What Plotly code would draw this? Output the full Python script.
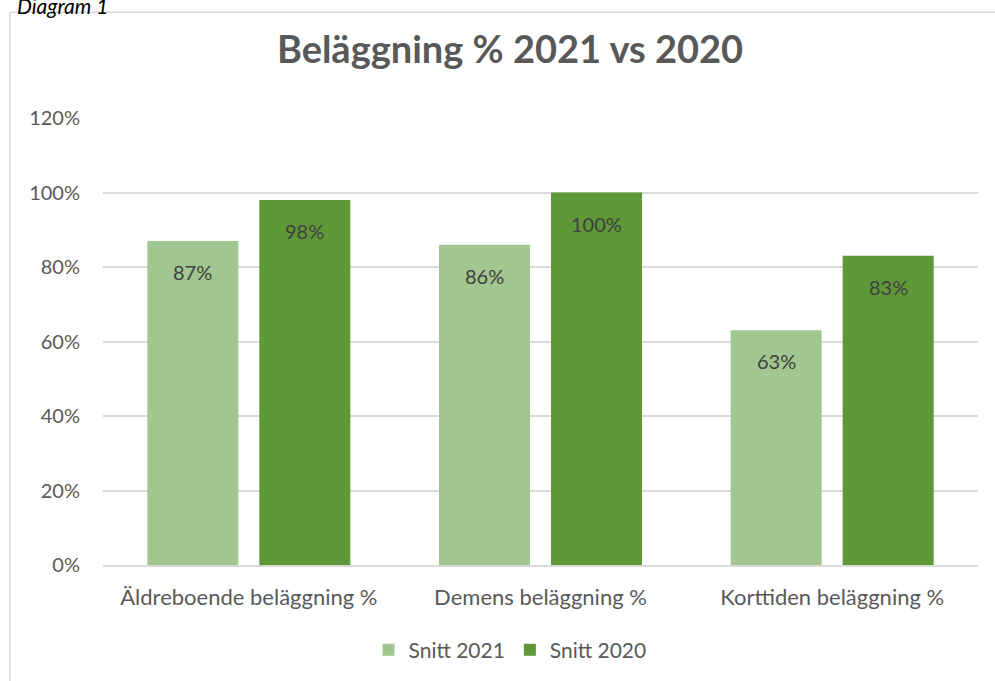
import plotly.graph_objects as go

categories = ["Äldreboende beläggning %", "Demens beläggning %", "Korttiden beläggning %"]
snitt_2021 = [0.87, 0.86, 0.63]
snitt_2020 = [0.98, 1.00, 0.83]
series_names = ["Snitt 2021", "Snitt 2020"]
tick_vals = [0, 0.2, 0.4, 0.6, 0.8, 1.0, 1.2]
tick_text = ["0%", "20%", "40%", "60%", "80%", "100%", "120%"]

FONT = "Lato"
W, H = 995, 681
L, R, T, B = 103, 17, 118, 115
plot_w = W - L - R
plot_h = H - T - B
BARGAP = 0.232
BARGROUPGAP = 0.1875

def py(pixel_y):
    return (H - B - pixel_y) / plot_h

def px(pixel_x):
    return (pixel_x - L) / plot_w

fig = go.Figure()
colors = ["#a2c68f", "#5e9837"]
slot = plot_w / len(categories) * (1 - BARGAP) / 2
shifts = [-slot / 2, slot / 2]
for name, vals, col, sh in zip(series_names, [snitt_2021, snitt_2020], colors, shifts):
    fig.add_trace(go.Bar(
        x=categories, y=vals, name=name,
        marker=dict(color=col, line=dict(width=0)),
        hoverinfo="x+y",
    ))
    for c, v in zip(categories, vals):
        fig.add_annotation(x=c, y=v, xref="x", yref="y", text=f"{round(v*100)}%",
                           showarrow=False, xshift=sh, yshift=-31, yanchor="middle",
                           font=dict(family=FONT, size=20, color="#404040"))

fig.update_layout(
    width=W, height=H,
    margin=dict(l=L, r=R, t=T, b=B, pad=0),
    paper_bgcolor="white", plot_bgcolor="white",
    barmode="group", bargap=BARGAP, bargroupgap=BARGROUPGAP,
    title=dict(text="<b>Beläggning % 2021 vs 2020</b>", x=510 / W, xanchor="center",
               xref="container", y=1 - 50 / H, yanchor="middle",
               font=dict(family=FONT, size=38, color="#595959")),
    font=dict(family=FONT, color="#595959"),
    legend=dict(orientation="h", x=px(510), xanchor="center", y=py(650), yanchor="middle",
                font=dict(family=FONT, size=21, color="#595959"),
                itemwidth=30, traceorder="normal"),
    showlegend=True,
)
fig.update_yaxes(range=[0, 1.2], tickvals=tick_vals, ticktext=tick_text,
                 showgrid=True, gridcolor="#d9d9d9", gridwidth=1.5,
                 zeroline=False, showline=False, ticks="",
                 tickfont=dict(family=FONT, size=20, color="#595959"), ticklabelstandoff=22)
fig.update_xaxes(showline=True, linecolor="#d9d9d9", linewidth=1.5, ticks="",
                 tickfont=dict(family=FONT, size=22, color="#595959"), ticklabelstandoff=12)

# chart border
fig.add_shape(type="rect", xref="paper", yref="paper",
              x0=px(10), x1=px(1000), y0=py(690), y1=py(12),
              line=dict(color="#d9d9d9", width=1.5), fillcolor="rgba(0,0,0,0)", layer="below")
fig.add_annotation(text="<i>Diagram 1</i>", xref="paper", yref="paper",
                   x=px(15), xanchor="left", y=py(-9), yanchor="top", showarrow=False,
                   font=dict(family=FONT, size=21, color="#000000"))

fig.write_html("out.html")
